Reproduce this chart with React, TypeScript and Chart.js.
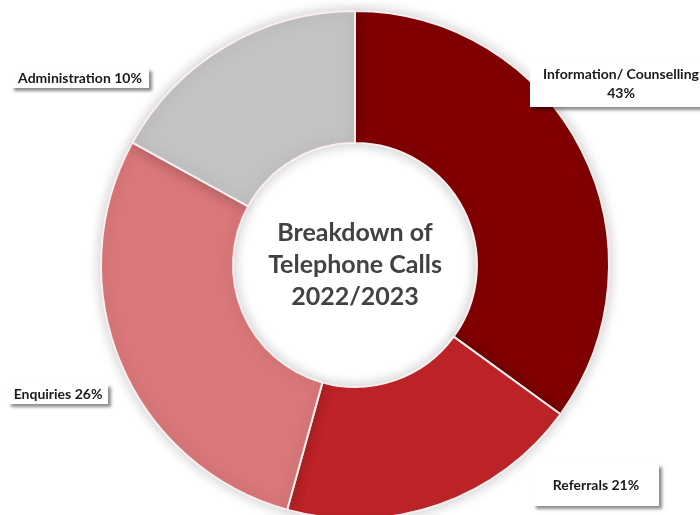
import React, { useEffect, useRef } from "react";
import { Chart, registerables } from "chart.js";

Chart.register(...registerables);

const categories = ["Information/ Counselling", "Referrals", "Enquiries", "Administration"];
const labelTexts = [["Information/ Counselling", "43%"], ["Referrals 21%"], ["Enquiries 26%"], ["Administration 10%"]];
const sliceValues = [35, 19.3, 28.7, 17];
const titleLines = ["Breakdown of", "Telephone Calls", "2022/2023"];

const sliceColors = ["#820002", "#bf2428", "#d9777a", "#c3c3c3"];

// label boxes: [centerX, centerY, width, height] in canvas pixels
const labelBoxes = [
  [621, 84, 182, 46],
  [596, 485, 126, 42],
  [58, 394, 100, 20],
  [80, 78, 138, 20],
];

const FONT = "Lato, 'Open Sans', sans-serif";

const shadowPlugin = {
  id: "ringShadow",
  beforeDatasetsDraw(chart: any) {
    const ctx = chart.ctx;
    ctx.save();
    ctx.shadowColor = "rgba(0,0,0,0.22)";
    ctx.shadowBlur = 14;
    ctx.shadowOffsetX = 0;
    ctx.shadowOffsetY = 0;
  },
  afterDatasetsDraw(chart: any) {
    chart.ctx.restore();
  },
};

const overlayPlugin = {
  id: "overlay",
  afterDraw(chart: any) {
    const ctx = chart.ctx;
    const meta = chart.getDatasetMeta(0);
    const arc = meta.data[0];
    const cx = arc.x;
    const cy = arc.y;
    ctx.save();
    ctx.fillStyle = "#424242";
    ctx.font = `bold 25px ${FONT}`;
    ctx.textAlign = "center";
    ctx.textBaseline = "middle";
    titleLines.forEach((t, i) => {
      ctx.fillText(t, cx, cy - 32 + i * 32);
    });
    labelBoxes.forEach((b, i) => {
      const [x, y, w, h] = b;
      ctx.save();
      ctx.shadowColor = "rgba(0,0,0,0.45)";
      ctx.shadowOffsetX = 3;
      ctx.shadowOffsetY = 3;
      ctx.shadowBlur = 3;
      ctx.fillStyle = "#ffffff";
      ctx.fillRect(x - w / 2, y - h / 2, w, h);
      ctx.restore();
      ctx.fillStyle = "#1a1a1a";
      ctx.font = `bold 14px ${FONT}`;
      ctx.textAlign = "center";
      ctx.textBaseline = "middle";
      const lines = labelTexts[i];
      const lh = 19;
      lines.forEach((t, j) => {
        ctx.fillText(t, x, y - ((lines.length - 1) * lh) / 2 + j * lh);
      });
    });
    ctx.restore();
  },
};

export default function App() {
  const ref = useRef<HTMLCanvasElement | null>(null);
  useEffect(() => {
    if (!ref.current) return;
    const chart = new Chart(ref.current, {
      type: "doughnut",
      data: {
        labels: categories,
        datasets: [
          {
            data: sliceValues,
            backgroundColor: sliceColors,
            borderColor: "#fbeeee",
            borderWidth: 2,
          },
        ],
      },
      options: {
        responsive: false,
        animation: false,
        cutout: "48%",
        layout: { padding: { top: 10, bottom: 10, left: 10, right: 0 } },
        plugins: {
          legend: { display: false },
          tooltip: { enabled: false },
        },
      },
      plugins: [shadowPlugin, overlayPlugin],
    });
    return () => chart.destroy();
  }, []);
  return (
    <div
      style={{
        position: "fixed",
        left: 0,
        top: 0,
        width: 700,
        height: 515,
        overflow: "hidden",
        background: "#ffffff",
      }}
    >
      <canvas ref={ref} width={700} height={530} style={{ display: "block" }} />
    </div>
  );
}
